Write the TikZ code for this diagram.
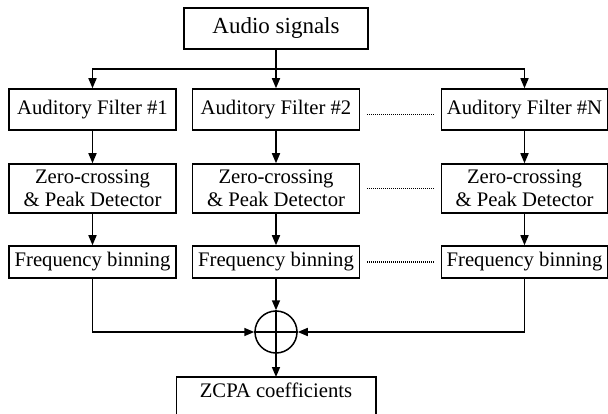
\documentclass[tikz,border=0pt]{standalone}
\usepackage{fontspec}
\setmainfont{Liberation Serif}
\usetikzlibrary{arrows.meta}
\begin{document}
\begin{tikzpicture}[x=1pt,y=-1pt,line width=1.5pt,
  box/.style={draw,line width=1.5pt,inner sep=0pt,align=center,
    font=\fontsize{20.7}{23}\selectfont,minimum width=167pt},
  arr/.style={-{Triangle[length=10pt,width=8pt]},line width=1.5pt},
  dots/.style={line width=1.6pt,dash pattern=on 0.9pt off 1.1pt}]
\useasboundingbox (0,0) rectangle (608,414);
\clip (0,0) rectangle (608,414);
% top
\node[box,minimum width=184pt,minimum height=41pt,font=\fontsize{23}{26}\selectfont] (audio) at (276,28.5) {Audio signals};
% filters
\node[box,minimum height=41pt] (f1) at (92.5,109.5) {Auditory Filter \#1};
\node[box,minimum height=41pt] (f2) at (276,109.5) {Auditory Filter \#2};
\node[box,minimum height=41pt,minimum width=166pt] (f3) at (524.5,109.5) {Auditory Filter \#N};
% zero crossing
\node[box,minimum height=49pt] (d1) at (92.5,188.5) {Zero-crossing\\\& Peak Detector};
\node[box,minimum height=49pt] (d2) at (276,188.5) {Zero-crossing\\\& Peak Detector};
\node[box,minimum height=49pt,minimum width=166pt] (d3) at (524.5,188.5) {Zero-crossing\\\& Peak Detector};
% binning
\node[box,minimum height=32pt] (b1) at (92.5,262) {Frequency binning};
\node[box,minimum height=32pt] (b2) at (276,262) {Frequency binning};
\node[box,minimum height=32pt,minimum width=166pt] (b3) at (524.5,262) {Frequency binning};
% summing junction
\node[draw,circle,line width=1.5pt,minimum size=42pt,inner sep=0pt] (sum) at (276,332) {};
\draw (sum.north) -- (sum.south);
\draw (sum.west) -- (sum.east);
% output
\node[anchor=north,inner sep=0pt,minimum width=198pt,minimum height=26pt,
  font=\fontsize{20.7}{23}\selectfont] (z) at (276,377) {ZCPA coefficients};
\draw ([yshift=-20pt]z.south west) -- (z.north west) -- (z.north east) -- ([yshift=-20pt]z.south east);
% connectors
\coordinate (j2) at (276,69);
\draw (audio.south) -- (j2);
\draw[arr] (j2) -| (f1.north);
\draw[arr] (j2) -| (f3.north);
\draw[arr] (j2) -- (f2.north);
\draw[arr] (f1) -- (d1);
\draw[arr] (f2) -- (d2);
\draw[arr] (f3) -- (d3);
\draw[arr] (d1) -- (b1);
\draw[arr] (d2) -- (b2);
\draw[arr] (d3) -- (b3);
\draw[arr] (b1.south) |- (sum.west);
\draw[arr] (b3.south) |- (sum.east);
\draw[arr] (b2.south) -- (sum.north);
\draw[arr] (sum.south) -- (z.north);
% dotted links
\draw[dots] ([xshift=7pt,yshift=-5pt]f2.east) -- ([xshift=-7pt,yshift=-5pt]f3.west);
\draw[dots] ([xshift=7pt]d2.east) -- ([xshift=-7pt]d3.west);
\draw[dots] ([xshift=7pt]b2.east) -- ([xshift=-7pt]b3.west);
\end{tikzpicture}
\end{document}
